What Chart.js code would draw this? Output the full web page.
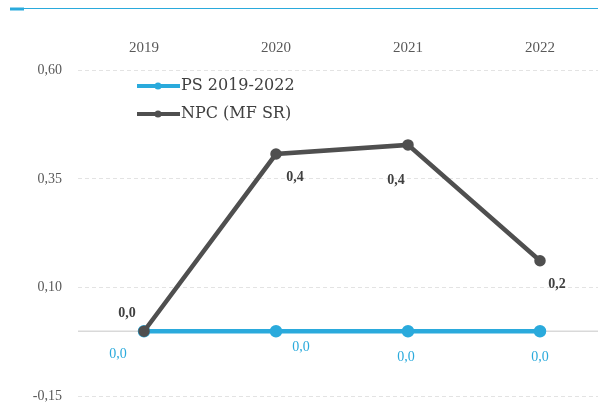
<!DOCTYPE html>
<html>
<head>
<meta charset="utf-8">
<script src="https://cdn.jsdelivr.net/npm/chart.js@4.4.0/dist/chart.umd.min.js"></script>
<style>
  html, body { margin: 0; padding: 0; background: #fff; overflow: hidden; }
  canvas { display: block; }
</style>
</head>
<body>
<canvas id="chart" width="598" height="405"></canvas>
<script>
const years = ["2019", "2020", "2021", "2022"];
const psValues = [0.0, 0.0, 0.0, 0.0];
const npcValues = [0.0, 0.407, 0.428, 0.162];
const yTicks = [-0.15, 0.10, 0.35, 0.60];

const BLUE = "#2aaadc";
const DARK = "#4f4f4f";
const FONT = "'Liberation Serif', 'DejaVu Serif', serif";

// where the plot area should end (right edge runs past the window, like the source)
const TARGET_RIGHT = 606;
const TARGET_BOTTOM = 397;

const fmt1 = (v) => v.toFixed(1).replace(".", ",");
const fmt2 = (v) => v.toFixed(2).replace(".", ",");

// label offsets per dataset, relative to the point
const labelOffsets = {
  0: [[-26, 23], [25, 16], [-2, 26], [0, 26]],
  1: [[-17, -18], [19, 23], [-12, 35], [17, 24]],
};

const extras = {
  id: "extras",
  beforeDatasetsDraw(chart) {
    const { ctx, chartArea } = chart;
    const y0 = chart.scales.y.getPixelForValue(0);
    ctx.save();
    ctx.strokeStyle = "#d9d9d9";
    ctx.lineWidth = 1.5;
    ctx.beginPath();
    ctx.moveTo(chartArea.left, y0);
    ctx.lineTo(chartArea.right, y0);
    ctx.stroke();
    ctx.restore();
  },
  afterDraw(chart) {
    const { ctx } = chart;
    ctx.save();
    // title rule at the top (title text cut off in the source)
    ctx.strokeStyle = BLUE;
    ctx.lineWidth = 1;
    ctx.beginPath();
    ctx.moveTo(10, 8.5);
    ctx.lineTo(chart.width, 8.5);
    ctx.stroke();
    ctx.lineWidth = 3;
    ctx.beginPath();
    ctx.moveTo(10, 9);
    ctx.lineTo(24, 9);
    ctx.stroke();

    // data labels
    ctx.textAlign = "center";
    ctx.textBaseline = "middle";
    chart.data.datasets.forEach((ds, i) => {
      const meta = chart.getDatasetMeta(i);
      ctx.fillStyle = i === 0 ? BLUE : "#404040";
      ctx.font = (i === 0 ? "" : "bold ") + "14px " + FONT;
      meta.data.forEach((pt, j) => {
        const off = labelOffsets[i][j];
        ctx.fillText(fmt1(ds.data[j]), pt.x + off[0], pt.y + off[1]);
      });
    });

    // legend
    const legendY = [86, 114];
    ctx.textAlign = "left";
    ctx.font = "16px 'DejaVu Serif', serif";
    chart.data.datasets.forEach((ds, i) => {
      const y = legendY[i];
      ctx.strokeStyle = ds.borderColor;
      ctx.lineWidth = 4;
      ctx.beginPath();
      ctx.moveTo(137, y);
      ctx.lineTo(180, y);
      ctx.stroke();
      ctx.fillStyle = ds.borderColor;
      ctx.beginPath();
      ctx.arc(158, y, 3.5, 0, Math.PI * 2);
      ctx.fill();
      ctx.fillStyle = "#404040";
      ctx.fillText(ds.label, 181, y);
    });
    ctx.restore();
  },
};

const makeConfig = () => ({
  type: "line",
  data: {
    labels: years,
    datasets: [
      {
        label: "PS 2019-2022",
        data: psValues,
        borderColor: BLUE,
        backgroundColor: BLUE,
        borderWidth: 4.5,
        pointRadius: 4,
        order: 2,
      },
      {
        label: "NPC (MF SR)",
        data: npcValues,
        borderColor: DARK,
        backgroundColor: DARK,
        borderWidth: 4.5,
        pointRadius: 3.5,
        order: 1,
      },
    ],
  },
  options: {
    responsive: false,
    animation: false,
    layout: { autoPadding: false, padding: 0 },
    plugins: {
      legend: { display: false },
      tooltip: { enabled: false },
    },
    scales: {
      x: {
        position: "top",
        offset: true,
        grid: { display: false, drawTicks: false },
        border: { display: false },
        ticks: {
          padding: 13,
          color: "#595959",
          font: { family: FONT, size: 15 },
        },
        afterFit: (scale) => { scale.height = 70; },
      },
      y: {
        min: yTicks[0],
        max: yTicks[yTicks.length - 1],
        bounds: "data",
        afterBuildTicks: (scale) => {
          scale.ticks = yTicks.map((v) => ({ value: v }));
        },
        grid: { color: "#e3e3e3", lineWidth: 1, drawTicks: false },
        border: { display: false, dash: [4, 3] },
        ticks: {
          padding: 16,
          color: "#595959",
          font: { family: FONT, size: 14 },
          callback: (v) => fmt2(v),
        },
        afterFit: (scale) => { scale.width = 78; },
      },
    },
  },
  plugins: [extras],
});

// build, measure the plot area, and resize the canvas so the plot lands where the source has it
const canvas = document.getElementById("chart");
let chart = new Chart(canvas, makeConfig());
for (let k = 0; k < 3; k++) {
  const dw = Math.round(TARGET_RIGHT - chart.chartArea.right);
  const dh = Math.round(TARGET_BOTTOM - chart.chartArea.bottom);
  if (dw === 0 && dh === 0) break;
  const w = canvas.width + dw;
  const h = canvas.height + dh;
  chart.destroy();
  canvas.width = w;
  canvas.height = h;
  canvas.style.width = w + "px";
  canvas.style.height = h + "px";
  chart = new Chart(canvas, makeConfig());
}
</script>
</body>
</html>
